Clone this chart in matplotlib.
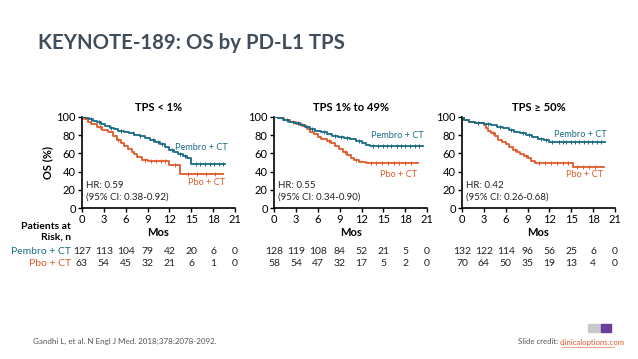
import matplotlib

matplotlib.use("Agg")
import matplotlib.pyplot as plt
from matplotlib import transforms
from matplotlib.patches import Rectangle
import numpy as np

plt.rcParams["font.family"] = ["Lato", "DejaVu Sans"]

TEAL = "#1a6a85"
ORANGE = "#e0592a"
TITLE_COLOR = "#3f4e5a"

panel_titles = ["TPS < 1%", "TPS 1% to 49%", "TPS \u2265 50%"]
hr_texts = ["HR: 0.59\n(95% CI: 0.38-0.92)",
            "HR: 0.55\n(95% CI: 0.34-0.90)",
            "HR: 0.42\n(95% CI: 0.26-0.68)"]
x_ticks = [0, 3, 6, 9, 12, 15, 18, 21]
y_ticks = [0, 20, 40, 60, 80, 100]

# KM curves: time of each step (months) and survival (%) after the step
pembro_t = [
    [0, 0.5, 1.0, 1.5, 2.0, 2.6, 3.2, 3.8, 4.4, 5.0, 5.8, 6.5, 7.2, 7.9, 8.6, 9.3,
     10.0, 10.7, 11.4, 12.0, 12.6, 13.2, 13.8, 14.4, 15.0, 19.6],
    [0, 0.5, 1.2, 2.0, 2.8, 3.5, 4.2, 4.9, 5.6, 6.4, 7.2, 8.0, 8.8, 9.6, 10.4, 11.2,
     12.0, 12.6, 13.2, 20.4],
    [0, 0.3, 1.0, 1.8, 3.0, 4.0, 4.8, 5.6, 6.4, 7.2, 8.0, 8.8, 9.6, 10.4, 11.2, 12.0,
     13.0, 19.6],
]
pembro_s = [
    [100, 99, 98, 96, 94, 92, 90, 88, 87, 85, 84, 82, 80, 79, 77, 75,
     73, 70, 67, 64, 62, 59, 57, 55, 48, 48],
    [100, 99, 97, 95, 93, 91, 89, 87, 85, 83, 81, 79, 78, 77, 76, 74,
     71, 69, 68, 68],
    [100, 97, 95, 93, 92, 91, 89, 88, 86, 84, 82, 80, 78, 76, 75, 73,
     72, 72],
]
pbo_t = [
    [0, 0.3, 0.8, 1.2, 2.0, 2.8, 3.5, 4.2, 4.8, 5.3, 5.8, 6.3, 6.8, 7.2, 7.6, 8.2,
     9.0, 12.0, 13.5, 19.4],
    [0, 0.6, 1.4, 2.2, 3.0, 3.8, 4.5, 5.0, 5.5, 6.0, 6.5, 7.2, 7.8, 8.4, 8.9, 9.4,
     10.0, 10.6, 11.0, 11.6, 12.6, 19.7],
    [0, 0.3, 1.0, 1.8, 3.0, 3.3, 3.6, 4.0, 4.5, 5.0, 5.5, 6.0, 6.5, 7.0, 7.5, 8.0,
     8.5, 9.0, 9.5, 10.0, 15.2, 19.5],
]
pbo_s = [
    [100, 98, 95, 92, 89, 86, 83, 79, 75, 71, 68, 65, 62, 59, 56, 53,
     52, 47, 37, 37],
    [100, 99, 97, 95, 92, 90, 87, 84, 81, 78, 76, 74, 71, 68, 65, 62,
     58, 55, 53, 51, 49, 49],
    [100, 97, 95, 93, 91, 88, 85, 82, 79, 75, 72, 70, 67, 64, 61, 59,
     57, 55, 52, 49, 45, 45],
]

# censoring tick times
pembro_cens = [
    [1.3, 2.4, 4.0, 5.4, 7.0, 8.0, 9.8, 10.4, 11.0, 12.3, 13.5, 14.1, 15.6, 16.2,
     16.9, 17.5, 18.1, 18.8, 19.3],
    [1.8, 3.3, 5.2, 6.9, 8.3, 9.2, 10.0, 11.6, 13.6, 14.2, 14.9, 15.5, 16.1, 16.8,
     17.4, 18.0, 18.7, 19.3, 19.9],
    [2.2, 3.6, 5.2, 6.8, 8.4, 9.2, 10.8, 11.6, 12.4, 13.3, 13.8, 14.3, 14.9, 15.5,
     16.1, 16.7, 17.3, 17.9, 18.5, 19.1],
]
pbo_cens = [
    [2.5, 5.0, 8.6, 9.5, 10.2, 10.8, 11.4, 12.7, 14.5, 15.8, 17.0, 18.2],
    [2.6, 4.8, 7.5, 9.7, 11.3, 13.3, 14.0, 14.8, 15.6, 16.4, 17.2, 18.0, 18.8],
    [4.2, 7.3, 8.8, 10.6, 11.4, 12.2, 13.0, 13.8, 14.6, 15.8, 16.6, 17.4, 18.2],
]

# numbers at risk
pembro_risk = [
    [127, 113, 104, 79, 42, 20, 6, 0],
    [128, 119, 108, 84, 52, 21, 5, 0],
    [132, 122, 114, 96, 56, 25, 6, 0],
]
pbo_risk = [
    [63, 54, 45, 32, 21, 6, 1, 0],
    [58, 54, 47, 32, 17, 5, 2, 0],
    [70, 64, 50, 35, 19, 13, 4, 0],
]

# label anchor positions (x, y in data) for series names
pembro_label_pos = [(20.0, 67), (20.5, 80), (19.8, 81)]
pbo_label_pos = [(19.6, 28), (19.6, 37), (19.3, 37)]


def step_value(t, s, x):
    idx = np.searchsorted(np.asarray(t), x, side="right") - 1
    return np.asarray(s)[idx]


fig = plt.figure(figsize=(6.38, 3.59), dpi=100)

fig.text(38 / 638, 1 - 43 / 359, "KEYNOTE-189: OS by PD-L1 TPS", fontsize=14.7,
         fontweight="bold", color=TITLE_COLOR, va="center", ha="left")

lefts = [0.1285, 0.4295, 0.724]
width = 0.240
bottom = 0.4206
height = 0.2535

for i in range(3):
    ax = fig.add_axes([lefts[i], bottom, width, height])
    ax.step(pembro_t[i], pembro_s[i], where="post", color=TEAL, lw=1.3, zorder=3)
    ax.step(pbo_t[i], pbo_s[i], where="post", color=ORANGE, lw=1.3, zorder=2)
    cy = step_value(pembro_t[i], pembro_s[i], pembro_cens[i])
    ax.plot(pembro_cens[i], cy, ls="none", marker="|", ms=3, mew=0.7, color=TEAL, zorder=3)
    cy = step_value(pbo_t[i], pbo_s[i], pbo_cens[i])
    ax.plot(pbo_cens[i], cy, ls="none", marker="|", ms=3, mew=0.7, color=ORANGE, zorder=2)

    ax.set_xlim(0, 21)
    ax.set_ylim(0, 100)
    ax.set_xticks(x_ticks)
    ax.set_yticks(y_ticks)
    ax.spines["top"].set_visible(False)
    ax.spines["right"].set_visible(False)
    ax.spines["left"].set_linewidth(1.2)
    ax.spines["bottom"].set_linewidth(1.2)
    ax.tick_params(direction="out", length=3, width=1, labelsize=8, pad=1.5, colors="black")
    ax.set_title(panel_titles[i], fontsize=8, fontweight="bold", pad=4)
    ax.set_xlabel("Mos", fontsize=8, fontweight="bold", labelpad=1)
    if i == 0:
        ax.set_ylabel("OS (%)", fontsize=8, fontweight="bold", labelpad=2)

    ax.text(0.5, 18, hr_texts[i], fontsize=7, ha="left", va="center",
            linespacing=1.35, color="#222222")
    px, py = pembro_label_pos[i]
    ax.text(px, py, "Pembro + CT", fontsize=6.6, color=TEAL, ha="right", va="center")
    px, py = pbo_label_pos[i]
    ax.text(px, py, "Pbo + CT", fontsize=6.6, color=ORANGE, ha="right", va="center")

    tr = transforms.blended_transform_factory(ax.transData, fig.transFigure)
    for x, a, b in zip(x_ticks, pembro_risk[i], pbo_risk[i]):
        fig.text(x, 1 - 252 / 359, str(a), transform=tr, fontsize=7.5,
                 ha="center", va="center", color="#222222")
        fig.text(x, 1 - 264 / 359, str(b), transform=tr, fontsize=7.5,
                 ha="center", va="center", color="#222222")

# risk table row labels
fig.text(71 / 638, 1 - 226 / 359, "Patients at", fontsize=7.5, fontweight="bold",
         ha="right", va="center")
fig.text(71 / 638, 1 - 237 / 359, "Risk, n", fontsize=7.5, fontweight="bold",
         ha="right", va="center")
fig.text(71 / 638, 1 - 252 / 359, "Pembro + CT", fontsize=7.5, color=TEAL,
         ha="right", va="center")
fig.text(71 / 638, 1 - 264 / 359, "Pbo + CT", fontsize=7.5, color=ORANGE,
         ha="right", va="center")

# footer
fig.text(33 / 638, 1 - 341 / 359, "Gandhi L, et al. N Engl J Med. 2018;378:2078-2092.",
         fontsize=5.8, color="#555555", ha="left", va="center")
fig.text(560 / 638, 1 - 342 / 359, "Slide credit: ", fontsize=5.6, color="#555555",
         ha="right", va="center")
fig.text(560 / 638, 1 - 342 / 359, "clinicaloptions.com", fontsize=5.6, color="#e0592a",
         ha="left", va="center")
fig.add_artist(plt.Line2D([561 / 638, 614 / 638], [1 - 346.5 / 359, 1 - 346.5 / 359],
                          color="#e0592a", lw=0.4, transform=fig.transFigure))
fig.add_artist(Rectangle((588 / 638, 1 - 332 / 359), 13 / 638, 8 / 359,
                         color="#c8c8d0", transform=fig.transFigure))
fig.add_artist(Rectangle((601 / 638, 1 - 332 / 359), 10 / 638, 8 / 359,
                         color="#6a3d9a", transform=fig.transFigure))

fig.savefig("out.png", dpi=100)
